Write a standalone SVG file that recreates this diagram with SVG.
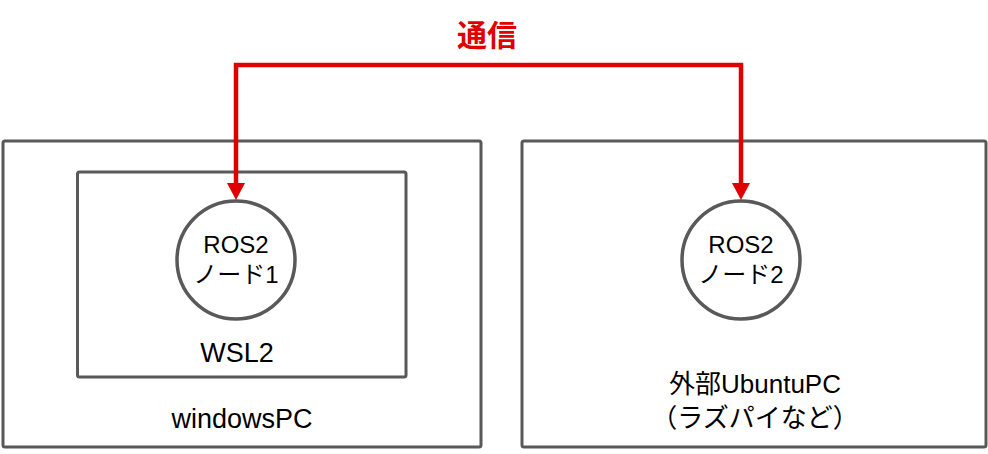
<svg xmlns="http://www.w3.org/2000/svg" width="988" height="454" viewBox="0 0 988 454">
<defs>
<style>
.box{fill:none;stroke:#595959;stroke-width:3}
.node{fill:#fff;stroke:#595959;stroke-width:3.5}
.t{font-family:"Liberation Sans","Noto Sans CJK JP",sans-serif;fill:#000;text-anchor:middle}
.conn{fill:none;stroke:#e00000;stroke-width:4.5}
.lbl{font-family:"Liberation Sans","Noto Sans CJK JP",sans-serif;fill:#e00000;text-anchor:middle;font-weight:bold}
</style>
<marker id="ah" markerUnits="userSpaceOnUse" markerWidth="18" markerHeight="18" refX="9" refY="9" orient="auto-start-reverse" viewBox="0 0 18 18">
<path d="M0,0 L17,9 L0,18 Z" fill="#e00000"/>
</marker>
</defs>
<rect width="988" height="454" fill="#fff"/>
<g id="windowsPC">
<rect class="box" x="3" y="141" width="478" height="306" rx="2"/>
<text class="t" x="242" y="428" font-size="27">windowsPC</text>
</g>
<g id="WSL2">
<rect class="box" x="77.5" y="172" width="328.5" height="205" rx="2"/>
<text class="t" x="237" y="362" font-size="27">WSL2</text>
</g>
<g id="ubuntuPC">
<rect class="box" x="522" y="141" width="464" height="306" rx="2"/>
<text class="t" x="755" y="393" font-size="26">外部UbuntuPC</text>
<text class="t" x="755" y="427" font-size="26">（ラズパイなど）</text>
</g>
<g id="node1">
<circle class="node" cx="236" cy="260" r="59"/>
<text class="t" x="236" y="253" font-size="24">ROS2</text>
<text class="t" x="236" y="283" font-size="24">ノード1</text>
</g>
<g id="node2">
<circle class="node" cx="741" cy="260" r="59"/>
<text class="t" x="741" y="253" font-size="24">ROS2</text>
<text class="t" x="741" y="283" font-size="24">ノード2</text>
</g>
<g id="connectors">
<path class="conn" d="M236,192 L236,65 L741,65 L741,192" marker-start="url(#ah)" marker-end="url(#ah)"/>
<text class="lbl" x="487" y="46" font-size="30">通信</text>
</g>
</svg>
